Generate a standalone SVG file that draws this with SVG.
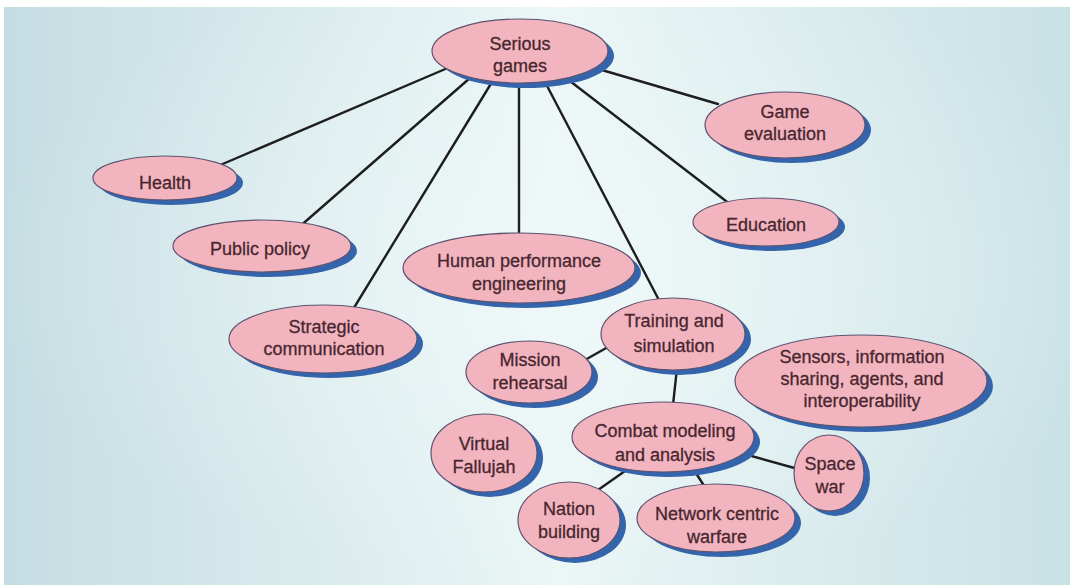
<svg xmlns="http://www.w3.org/2000/svg" width="1070" height="585" viewBox="0 0 1070 585">
  <defs>
    <linearGradient id="bg" x1="0" y1="0" x2="1" y2="0">
      <stop offset="0" stop-color="#c4dde2"/>
      <stop offset="0.52" stop-color="#ebf6f6"/>
      <stop offset="1" stop-color="#c8e1e5"/>
    </linearGradient>
    <radialGradient id="glow" cx="0.53" cy="0.45" r="0.55">
      <stop offset="0" stop-color="#f2fafa" stop-opacity="0.6"/>
      <stop offset="1" stop-color="#f2fafa" stop-opacity="0"/>
    </radialGradient>
  </defs>
  <style>
    .shadow { fill: #3464ac; }
    .bubble { fill: #f2b5bf; stroke: #5d5270; stroke-width: 1.2; }
    .label { font-family: "Liberation Sans", Arial, sans-serif; font-size: 18px; fill: #48262f; stroke: #48262f; stroke-width: 0.3; text-anchor: middle; }
    .link { stroke: #1e1e1e; stroke-width: 2.4; fill: none; stroke-linecap: round; }
  </style>

  <!-- backdrop -->
  <rect x="0" y="0" width="1070" height="585" fill="#ffffff"/>
  <rect x="4" y="7" width="1066" height="578" fill="url(#bg)"/>
  <rect x="4" y="7" width="1066" height="578" fill="url(#glow)"/>

  <!-- connectors -->
  <g id="connectors">
    <line class="link" x1="450" y1="67" x2="218" y2="166"/>
    <line class="link" x1="470" y1="78" x2="298" y2="228"/>
    <line class="link" x1="492" y1="82" x2="352" y2="311"/>
    <line class="link" x1="519" y1="85" x2="519" y2="238"/>
    <line class="link" x1="545" y1="82" x2="661" y2="304"/>
    <line class="link" x1="566" y1="78" x2="735" y2="208"/>
    <line class="link" x1="595" y1="68" x2="718" y2="104"/>
    <line class="link" x1="585" y1="360" x2="615" y2="343"/>
    <line class="link" x1="677" y1="368" x2="673" y2="405"/>
    <line class="link" x1="625" y1="471" x2="598" y2="490"/>
    <line class="link" x1="694" y1="470" x2="708" y2="492"/>
    <line class="link" x1="748" y1="455" x2="798" y2="469"/>
  </g>

  <g id="serious-games">
    <ellipse class="shadow" cx="526" cy="56" rx="88" ry="32"/>
    <ellipse class="bubble" cx="520" cy="51" rx="88" ry="32"/>
    <text class="label" x="520" y="50">Serious</text>
    <text class="label" x="520" y="72">games</text>
  </g>

  <g id="health">
    <ellipse class="shadow" cx="171" cy="183" rx="72" ry="22"/>
    <ellipse class="bubble" cx="165" cy="178" rx="72" ry="22"/>
    <text class="label" x="165" y="189">Health</text>
  </g>

  <g id="game-evaluation">
    <ellipse class="shadow" cx="791" cy="130" rx="80" ry="33"/>
    <ellipse class="bubble" cx="785" cy="125" rx="80" ry="33"/>
    <text class="label" x="785" y="118">Game</text>
    <text class="label" x="785" y="140">evaluation</text>
  </g>

  <g id="public-policy">
    <ellipse class="shadow" cx="268" cy="251" rx="89" ry="26"/>
    <ellipse class="bubble" cx="262" cy="246" rx="89" ry="26"/>
    <text class="label" x="260" y="255">Public policy</text>
  </g>

  <g id="education">
    <ellipse class="shadow" cx="772" cy="227" rx="73" ry="24"/>
    <ellipse class="bubble" cx="766" cy="222" rx="73" ry="24"/>
    <text class="label" x="766" y="231">Education</text>
  </g>

  <g id="human-performance">
    <ellipse class="shadow" cx="525" cy="273" rx="116" ry="35"/>
    <ellipse class="bubble" cx="519" cy="268" rx="116" ry="35"/>
    <text class="label" x="519" y="267">Human performance</text>
    <text class="label" x="519" y="290">engineering</text>
  </g>

  <g id="strategic-communication">
    <ellipse class="shadow" cx="329" cy="344" rx="94" ry="34"/>
    <ellipse class="bubble" cx="323" cy="339" rx="94" ry="34"/>
    <text class="label" x="324" y="333">Strategic</text>
    <text class="label" x="324" y="355">communication</text>
  </g>

  <g id="training-simulation">
    <ellipse class="shadow" cx="679" cy="339" rx="72" ry="36"/>
    <ellipse class="bubble" cx="673" cy="334" rx="72" ry="36"/>
    <text class="label" x="674" y="327">Training and</text>
    <text class="label" x="674" y="352">simulation</text>
  </g>

  <g id="mission-rehearsal">
    <ellipse class="shadow" cx="535" cy="377" rx="63" ry="31"/>
    <ellipse class="bubble" cx="529" cy="372" rx="63" ry="31"/>
    <text class="label" x="530" y="366">Mission</text>
    <text class="label" x="530" y="389">rehearsal</text>
  </g>

  <g id="sensors">
    <ellipse class="shadow" cx="867" cy="386" rx="126" ry="46"/>
    <ellipse class="bubble" cx="861" cy="381" rx="126" ry="46"/>
    <text class="label" x="862" y="363">Sensors, information</text>
    <text class="label" x="862" y="385">sharing, agents, and</text>
    <text class="label" x="862" y="407">interoperability</text>
  </g>

  <g id="virtual-fallujah">
    <ellipse class="shadow" cx="490" cy="458" rx="53" ry="39"/>
    <ellipse class="bubble" cx="484" cy="453" rx="53" ry="39"/>
    <text class="label" x="484" y="450">Virtual</text>
    <text class="label" x="484" y="473">Fallujah</text>
  </g>

  <g id="combat-modeling">
    <ellipse class="shadow" cx="669" cy="442" rx="91" ry="35"/>
    <ellipse class="bubble" cx="663" cy="437" rx="91" ry="35"/>
    <text class="label" x="665" y="437">Combat modeling</text>
    <text class="label" x="665" y="461">and analysis</text>
  </g>

  <g id="space-war">
    <ellipse class="shadow" cx="835" cy="478" rx="35" ry="38"/>
    <ellipse class="bubble" cx="829" cy="473" rx="35" ry="38"/>
    <text class="label" x="830" y="470">Space</text>
    <text class="label" x="830" y="493">war</text>
  </g>

  <g id="nation-building">
    <ellipse class="shadow" cx="575" cy="525" rx="51" ry="38"/>
    <ellipse class="bubble" cx="569" cy="520" rx="51" ry="38"/>
    <text class="label" x="569" y="515">Nation</text>
    <text class="label" x="569" y="538">building</text>
  </g>

  <g id="network-centric">
    <ellipse class="shadow" cx="722" cy="523" rx="79" ry="34"/>
    <ellipse class="bubble" cx="716" cy="518" rx="79" ry="34"/>
    <text class="label" x="717" y="520">Network centric</text>
    <text class="label" x="717" y="543">warfare</text>
  </g>
</svg>
